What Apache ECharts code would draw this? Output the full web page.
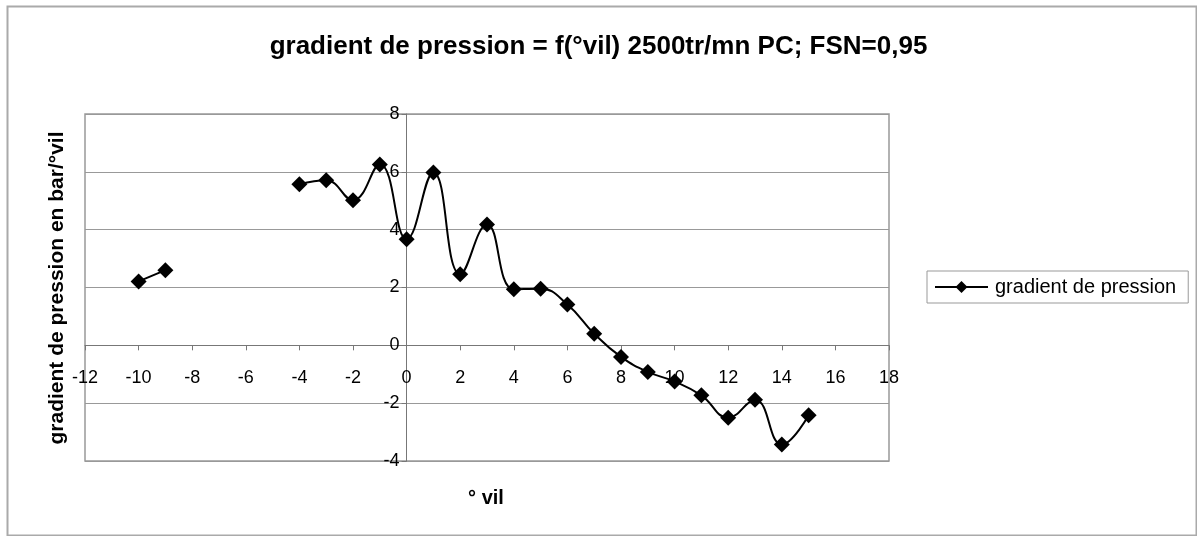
<!DOCTYPE html>
<html>
<head>
<meta charset="utf-8">
<script src="https://cdn.jsdelivr.net/npm/echarts@6/dist/echarts.min.js"></script>
<style>html,body{margin:0;padding:0;background:#fff}#c{width:1197px;height:536px}</style>
</head>
<body>
<div id="c"></div>
<script>
const titleText = 'gradient de pression = f(°vil) 2500tr/mn PC; FSN=0,95';
const seriesName = 'gradient de pression';
const xName = '° vil';
const yName = 'gradient de pression en bar/°vil';
const xVil = [-10, -9, -8, -7, -6, -5, -4, -3, -2, -1, 0, 1, 2, 3, 4, 5, 6, 7, 8, 9, 10, 11, 12, 13, 14, 15];
const gradient = [2.21, 2.6, null, null, null, null, 5.57, 5.71, 5.02, 6.25, 3.67, 5.98, 2.46, 4.18, 1.94, 1.96, 1.41, 0.40, -0.40, -0.92, -1.25, -1.73, -2.50, -1.88, -3.43, -2.42];
const xMin = -12, xMax = 18, xStep = 2;
const yMin = -4, yMax = 8, yStep = 2;

const data = xVil.map((x, i) => [x, gradient[i]]);
const font = 'Liberation Sans, Arial, sans-serif';
const W = 1197, H = 536;
const G = {left: 85, right: 308, top: 114, bottom: 75};
const gw = W - G.left - G.right, gh = H - G.top - G.bottom;
// place axes where the other axis is zero
const xOffset = -gh * (0 - yMin) / (yMax - yMin);
const yOffset = -gw * (0 - xMin) / (xMax - xMin);

const chart = echarts.init(document.getElementById('c'), null, {renderer: 'canvas'});
chart.setOption({
  backgroundColor: '#fff',
  animation: false,
  title: {
    text: titleText, left: 'center', top: 34, padding: 0,
    textStyle: {fontFamily: font, fontSize: 26, fontWeight: 'bold', color: '#000'}
  },
  grid: {left: G.left, right: G.right, top: G.top, bottom: G.bottom, show: true, borderColor: '#999', borderWidth: 1.5, backgroundColor: 'transparent'},
  legend: {
    left: 927, top: 271, orient: 'horizontal',
    itemWidth: 53, itemHeight: 15, itemGap: 4,
    padding: [6, 12, 6, 7],
    borderColor: '#999', borderWidth: 1,
    textStyle: {fontFamily: font, fontSize: 20, color: '#000', padding: [0, 0, 0, 2]},
    data: [seriesName]
  },
  xAxis: {
    type: 'value', min: xMin, max: xMax, interval: xStep, position: 'bottom', offset: xOffset,
    axisLine: {onZero: false, lineStyle: {color: '#777', width: 1}},
    axisTick: {show: true, length: 5, lineStyle: {color: '#777'}},
    axisLabel: {fontFamily: font, fontSize: 18, color: '#000', margin: 24},
    splitLine: {show: false}
  },
  yAxis: {
    type: 'value', min: yMin, max: yMax, interval: yStep, position: 'left', offset: yOffset,
    axisLine: {show: true, onZero: false, lineStyle: {color: '#777', width: 1}},
    axisTick: {show: true, length: 5, lineStyle: {color: '#777'}},
    axisLabel: {fontFamily: font, fontSize: 18, color: '#000', margin: 7},
    splitLine: {show: true, lineStyle: {color: '#999', width: 1}}
  },
  graphic: [
    {type: 'rect', left: 5, top: 4, shape: {width: 1189, height: 529}, style: {fill: 'none', stroke: '#aaa', lineWidth: 2}, silent: true},
    {type: 'text', x: 57, y: 288, rotation: Math.PI / 2, style: {text: yName, font: 'bold 21px ' + font, fill: '#000', align: 'center', verticalAlign: 'middle'}},
    {type: 'text', x: 486, y: 498, style: {text: xName, font: 'bold 20px ' + font, fill: '#000', align: 'center', verticalAlign: 'middle'}}
  ],
  series: [{
    name: seriesName, type: 'line', data: data, smooth: 0.45, connectNulls: false,
    symbol: 'diamond', symbolSize: 16, showSymbol: true,
    lineStyle: {color: '#000', width: 2},
    itemStyle: {color: '#000'}
  }]
});
</script>
</body>
</html>
